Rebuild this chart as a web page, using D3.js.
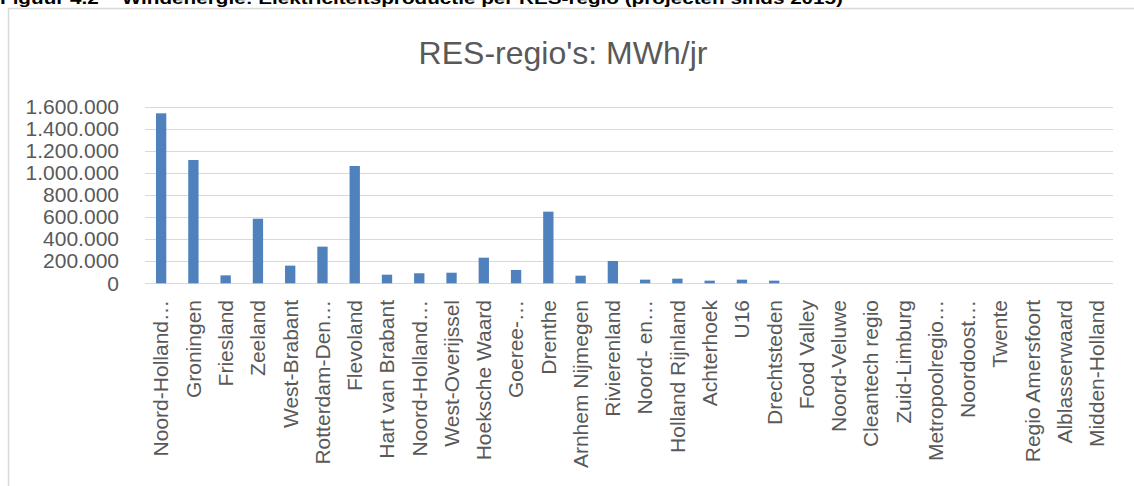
<!DOCTYPE html>
<html>
<head>
<meta charset="utf-8">
<script src="https://cdn.jsdelivr.net/npm/d3@7"></script>
<style>
  body { margin: 0; background: #fff; }
  svg { display: block; }
</style>
</head>
<body>
<script>
// RES-regio's, windenergie MWh/jr (labels as shown, truncated ones keep the ellipsis)
var regions = [
  "Noord-Holland…", "Groningen", "Friesland", "Zeeland", "West-Brabant",
  "Rotterdam-Den…", "Flevoland", "Hart van Brabant", "Noord-Holland…", "West-Overijssel",
  "Hoeksche Waard", "Goeree-…", "Drenthe", "Arnhem Nijmegen", "Rivierenland",
  "Noord- en…", "Holland Rijnland", "Achterhoek", "U16", "Drechtsteden",
  "Food Valley", "Noord-Veluwe", "Cleantech regio", "Zuid-Limburg", "Metropoolregio…",
  "Noordoost…", "Twente", "Regio Amersfoort", "Alblasserwaard", "Midden-Holland"
];
var mwh = [
  1540000, 1117000, 72000, 585000, 160000,
  332000, 1063000, 78000, 91000, 96000,
  232000, 121000, 649000, 69000, 202000,
  33000, 42000, 24000, 33000, 24000,
  0, 0, 0, 0, 0,
  0, 0, 0, 0, 0
];
var yTicks = [0, 200000, 400000, 600000, 800000, 1000000, 1200000, 1400000, 1600000];

var caption = "Figuur 4.2 – Windenergie: Elektriciteitsproductie per RES-regio (projecten sinds 2015)";
var title = "RES-regio's: MWh/jr";

var W = 1134, H = 486;
var font = "'Liberation Sans', Arial, sans-serif";
var grey = "#595959";

var svg = d3.select("body").append("svg")
    .attr("width", W)
    .attr("height", H);

// document caption, partly above the top of the page
svg.append("text")
    .attr("x", 0)
    .attr("y", 4)
    .attr("font-family", font)
    .attr("font-weight", "bold")
    .attr("font-size", 16)
    .attr("textLength", 843)
    .attr("lengthAdjust", "spacingAndGlyphs")
    .attr("fill", "#000")
    .text(caption);

// chart frame (only top and left edges are visible)
svg.append("rect")
    .attr("x", 8.5)
    .attr("y", 8.5)
    .attr("width", W + 20)
    .attr("height", H + 20)
    .attr("fill", "none")
    .attr("stroke", "#d9d9d9")
    .attr("stroke-width", 1.5);

svg.append("text")
    .attr("x", 563)
    .attr("y", 64)
    .attr("text-anchor", "middle")
    .attr("font-family", font)
    .attr("font-size", 32)
    .attr("fill", grey)
    .text(title);

var x = d3.scaleBand()
    .domain(regions.map(function (d, i) { return i; }))
    .range([145, 1113])
    .paddingInner(0.68)
    .paddingOuter(0.34);

var y = d3.scaleLinear()
    .domain([0, 1600000])
    .range([283.3, 106.7]);

var fmt = function (v) {
    return v === 0 ? "0" : d3.format(",")(v).replace(/,/g, ".");
};

// gridlines
svg.append("g")
    .selectAll("line")
    .data(yTicks)
    .join("line")
    .attr("x1", 145)
    .attr("x2", 1113)
    .attr("y1", function (d) { return Math.round(y(d)) + 0.5; })
    .attr("y2", function (d) { return Math.round(y(d)) + 0.5; })
    .attr("stroke", "#d9d9d9")
    .attr("stroke-width", 1.2);

// y axis labels
var yAxis = d3.axisLeft(y).tickValues(yTicks).tickFormat(fmt).tickSize(0).tickPadding(0);
var gy = svg.append("g")
    .attr("transform", "translate(119,0)")
    .call(yAxis);
gy.select(".domain").remove();
gy.selectAll("text")
    .attr("font-family", font)
    .attr("font-size", 21)
    .attr("fill", grey);

// bars
svg.append("g")
    .selectAll("rect")
    .data(mwh)
    .join("rect")
    .attr("x", function (d, i) { return x(i); })
    .attr("y", function (d) { return y(d); })
    .attr("width", x.bandwidth())
    .attr("height", function (d) { return y(0) - y(d); })
    .attr("fill", "#4f81bd");

// x axis labels, rotated
var xAxis = d3.axisBottom(x).tickFormat(function (i) { return regions[i]; }).tickSize(0).tickPadding(0);
var gx = svg.append("g")
    .attr("transform", "translate(0,300)")
    .call(xAxis);
gx.select(".domain").remove();
gx.selectAll("text")
    .attr("font-family", font)
    .attr("font-size", 21)
    .attr("fill", grey)
    .attr("transform", "rotate(-90)")
    .attr("text-anchor", "end")
    .attr("x", 0)
    .attr("y", 0)
    .attr("dy", "0.35em");
</script>
</body>
</html>
